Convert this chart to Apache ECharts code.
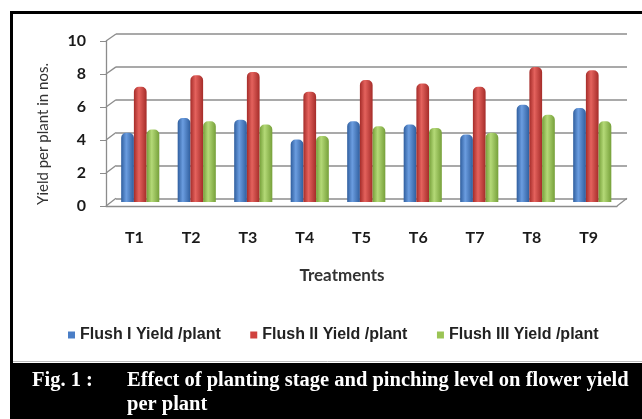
<!DOCTYPE html>
<html lang="en">
<head>
<meta charset="UTF-8">
<title>Flower yield per plant</title>
<script src="https://cdn.jsdelivr.net/npm/echarts@6/dist/echarts.min.js"></script>
<style>
  html, body { margin: 0; padding: 0; background: #fff; }
  #chart { width: 642px; height: 419px; }
</style>
</head>
<body>
<div id="chart"></div>
<script>
// data
const treatments = ['T1', 'T2', 'T3', 'T4', 'T5', 'T6', 'T7', 'T8', 'T9'];
const flush1 = [4.2, 5.1, 5.0, 3.8, 4.9, 4.7, 4.1, 5.9, 5.7];
const flush2 = [7.0, 7.7, 7.9, 6.7, 7.4, 7.2, 7.0, 8.2, 8.0];
const flush3 = [4.4, 4.9, 4.7, 4.0, 4.6, 4.5, 4.2, 5.3, 4.9];
const seriesNames = ['Flush I Yield /plant', 'Flush II Yield /plant', 'Flush III Yield /plant'];
const yTicks = [0, 2, 4, 6, 8, 10];

// fake 3D: back wall, bars in the middle, axes in front
const FRONT_LEFT = 106, FRONT_RIGHT = 617;
const BACK_LEFT = 116, BACK_RIGHT = 627;
const GRID_COL = '#8c8c8c';
const CAPTION_FONT = 'bold 20.5px "Liberation Serif"';

function cylinder(dark, light) {
    return new echarts.graphic.LinearGradient(0, 0, 1, 0, [
        { offset: 0, color: dark },
        { offset: 0.4, color: light },
        { offset: 1, color: dark }
    ]);
}

const chart = echarts.init(document.getElementById('chart'));

const baseGraphics = [
    // frame
    { type: 'line', shape: { x1: 10, y1: 12.5, x2: 642, y2: 12.5 }, style: { stroke: '#000', lineWidth: 3 } },
    { type: 'line', shape: { x1: 11.5, y1: 11, x2: 11.5, y2: 419 }, style: { stroke: '#000', lineWidth: 3 } },
    { type: 'line', shape: { x1: 13, y1: 361.5, x2: 642, y2: 361.5 }, style: { stroke: '#bbb', lineWidth: 1 } },
    // y axis title
    {
        type: 'text', x: 43, y: 134, rotation: Math.PI / 2,
        style: { text: 'Yield per plant in nos.', fill: '#333', font: '15px Lato', textAlign: 'center', textVerticalAlign: 'middle' }
    },
    // caption
    { type: 'rect', shape: { x: 10, y: 363, width: 632, height: 56 }, style: { fill: '#000' } },
    { type: 'text', x: 32, y: 381, style: { text: 'Fig. 1 :', fill: '#fff', font: CAPTION_FONT, textVerticalAlign: 'middle' } },
    { type: 'text', x: 127, y: 381, style: { text: 'Effect of planting stage and pinching level on flower yield', fill: '#fff', font: CAPTION_FONT, textVerticalAlign: 'middle' } },
    { type: 'text', x: 127, y: 405, style: { text: 'per plant', fill: '#fff', font: CAPTION_FONT, textVerticalAlign: 'middle' } }
];

const option = {
    animation: false,
    backgroundColor: '#fff',
    grid: [
        { left: BACK_LEFT, right: 642 - BACK_RIGHT, top: 34, height: 164.3 },   // back wall
        { left: 112, width: 508.5, top: 37.3, height: 164.7 },                  // bars
        { left: FRONT_LEFT, right: 642 - FRONT_RIGHT, top: 41, height: 165 }     // front axes
    ],
    legend: {
        left: 63,
        top: 322,
        itemWidth: 7,
        itemHeight: 7,
        itemGap: 29.5,
        icon: 'rect',
        textStyle: { fontFamily: 'Liberation Sans', fontWeight: 'bold', fontSize: 16, color: '#222' },
        data: [
            { name: seriesNames[0], itemStyle: { color: '#4a7ec6' } },
            { name: seriesNames[1], itemStyle: { color: '#d0423e' } },
            { name: seriesNames[2], itemStyle: { color: '#9bc455' } }
        ]
    },
    xAxis: [
        { gridIndex: 0, type: 'category', data: treatments, show: false },
        { gridIndex: 1, type: 'category', data: treatments, show: false },
        {
            gridIndex: 2,
            type: 'category',
            data: treatments,
            axisLine: { lineStyle: { color: GRID_COL, width: 1.3 } },
            axisTick: { length: 6, lineStyle: { color: GRID_COL } },
            axisLabel: { margin: 24, fontFamily: 'Lato', fontWeight: 'bold', fontSize: 16, color: '#1a1a1a' },
            name: 'Treatments',
            nameLocation: 'middle',
            nameGap: 61,
            nameTextStyle: { fontFamily: 'Lato', fontWeight: 'bold', fontSize: 17, color: '#333', padding: [0, 39, 0, 0] }
        }
    ],
    yAxis: [
        {
            gridIndex: 0, type: 'value', min: yTicks[0], max: yTicks[yTicks.length - 1], interval: 2,
            axisLabel: { show: false }, axisLine: { show: false }, axisTick: { show: false },
            splitLine: { lineStyle: { color: GRID_COL, width: 1.5 } }
        },
        { gridIndex: 1, type: 'value', min: yTicks[0], max: yTicks[yTicks.length - 1], show: false, splitLine: { show: false } },
        {
            gridIndex: 2, type: 'value', min: yTicks[0], max: yTicks[yTicks.length - 1], interval: 2,
            axisLine: { show: true, lineStyle: { color: GRID_COL, width: 1.3 } },
            axisTick: { show: true, length: 6, lineStyle: { color: GRID_COL } },
            splitLine: { show: false },
            axisLabel: { margin: 20, fontFamily: 'Lato', fontWeight: 'bold', fontSize: 16, color: '#1a1a1a' }
        }
    ],
    series: [
        {
            name: seriesNames[0], type: 'bar', xAxisIndex: 1, yAxisIndex: 1, data: flush1,
            barWidth: '22.5%', barGap: '0%',
            itemStyle: { color: cylinder('#2f5e9e', '#6b9de0'), borderRadius: [5, 5, 0, 0] }
        },
        {
            name: seriesNames[1], type: 'bar', xAxisIndex: 1, yAxisIndex: 1, data: flush2,
            barWidth: '22.5%', barGap: '0%',
            itemStyle: { color: cylinder('#a52c29', '#e4625d'), borderRadius: [5, 5, 0, 0] }
        },
        {
            name: seriesNames[2], type: 'bar', xAxisIndex: 1, yAxisIndex: 1, data: flush3,
            barWidth: '22.5%', barGap: '0%',
            itemStyle: { color: cylinder('#76a03a', '#b4d977'), borderRadius: [5, 5, 0, 0] }
        }
    ],
    graphic: baseGraphics
};

chart.setOption(option);

// diagonal edges joining front axis ticks to back wall lines
const edges = yTicks.map(v => ({
    type: 'line',
    shape: {
        x1: FRONT_LEFT, y1: chart.convertToPixel({ yAxisIndex: 2 }, v),
        x2: BACK_LEFT, y2: chart.convertToPixel({ yAxisIndex: 0 }, v)
    },
    style: { stroke: GRID_COL, lineWidth: 1.3 }
}));
edges.push({
    type: 'line',
    shape: {
        x1: FRONT_RIGHT, y1: chart.convertToPixel({ yAxisIndex: 2 }, 0),
        x2: BACK_RIGHT, y2: chart.convertToPixel({ yAxisIndex: 0 }, 0)
    },
    style: { stroke: GRID_COL, lineWidth: 1.3 }
});
chart.setOption({ graphic: baseGraphics.concat(edges) });
</script>
</body>
</html>
